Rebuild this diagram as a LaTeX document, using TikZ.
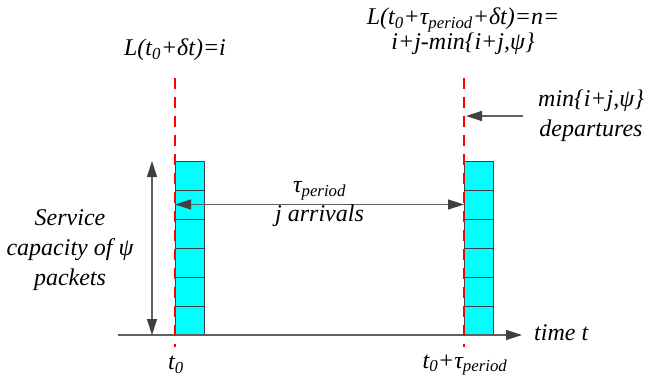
\documentclass[tikz,border=0pt]{standalone}
\usepackage{fontspec}
\setmainfont{Liberation Serif}
\newfontfamily\timesfont{Liberation Serif}
\usetikzlibrary{arrows.meta,positioning}
\definecolor{linegray}{HTML}{606060}
\definecolor{tipgray}{HTML}{404040}
\definecolor{boxcyan}{RGB}{0,255,255}

\begin{document}
\begin{tikzpicture}[x=1pt, y=-1pt,
    lbl/.style={font=\timesfont\fontsize{24}{30}\selectfont\itshape, text=black, align=center, inner sep=0pt},
    cell/.style={draw=tipgray, fill=boxcyan, line width=1pt, minimum size=29pt, inner sep=0pt, outer sep=0pt},
    marker/.style={red, line width=1.4pt, dash pattern=on 11pt off 8pt},
    arr/.style={-{Triangle[length=16pt, width=10pt, color=tipgray]}, line width=1.3pt, linegray},
    dbl/.style={{Triangle[length=16pt, width=10pt, color=tipgray]}-{Triangle[length=16pt, width=10pt, color=tipgray]}, line width=1.3pt, linegray}
]
\useasboundingbox (0,0) rectangle (651,380);

% queues at t0 and t0+tau
\foreach \k in {0,...,5} {
    \node[cell] (l\k) at (189.5,{320.5-29*\k}) {};
    \node[cell] (r\k) at (478.5,{320.5-29*\k}) {};
}

% time axis
\coordinate (axL) at (118,335);
\node[lbl, anchor=west, inner xsep=12pt] (time) at (522,333) {time t};
\draw[arr] (axL) -- (time.west |- axL);

% observation instants
\coordinate (lTop) at (175,78);
\coordinate (lBot) at (175,347);
\coordinate (rTop) at (464,78);
\coordinate (rBot) at (464,347);
\draw[marker] (lTop) -- (lBot);
\draw[marker] (rTop) -- (rBot);

\node[lbl] (t0) at (176,365) {t\textsubscript{0}};
\node[lbl] (t1) at (465,365) {t\textsubscript{0}+τ\textsubscript{period}};
\node[lbl] (Li) at (175,50) {L(t\textsubscript{0}+δt)=i};
\node[lbl, font=\timesfont\fontsize{24}{21}\selectfont\itshape] (Ln) at (463,31) {L(t\textsubscript{0}+τ\textsubscript{period}+δt)=n=\\i+j-min\{i+j,ψ\}};

% service capacity
\coordinate (capT) at (152,161);
\coordinate (capB) at (152,335);
\draw[dbl] (capT) -- (capB);
\node[lbl] (cap) at (70,250) {Service\\capacity of ψ\\packets};

% arrivals
\draw[dbl] (l4.west) -- (r4.west)
    node[lbl, midway, anchor=base, yshift=12pt] (tau) {τ\textsubscript{period}}
    node[lbl, midway, anchor=base, yshift=-17pt] (arrv) {j arrivals};

% departures
\node[lbl, anchor=west, inner xsep=15pt] (dep) at (523,116) {min\{i+j,ψ\}\\departures};
\coordinate (rDep) at (466,116);
\draw[arr] (dep.west) -- (rDep);
\end{tikzpicture}
\end{document}
